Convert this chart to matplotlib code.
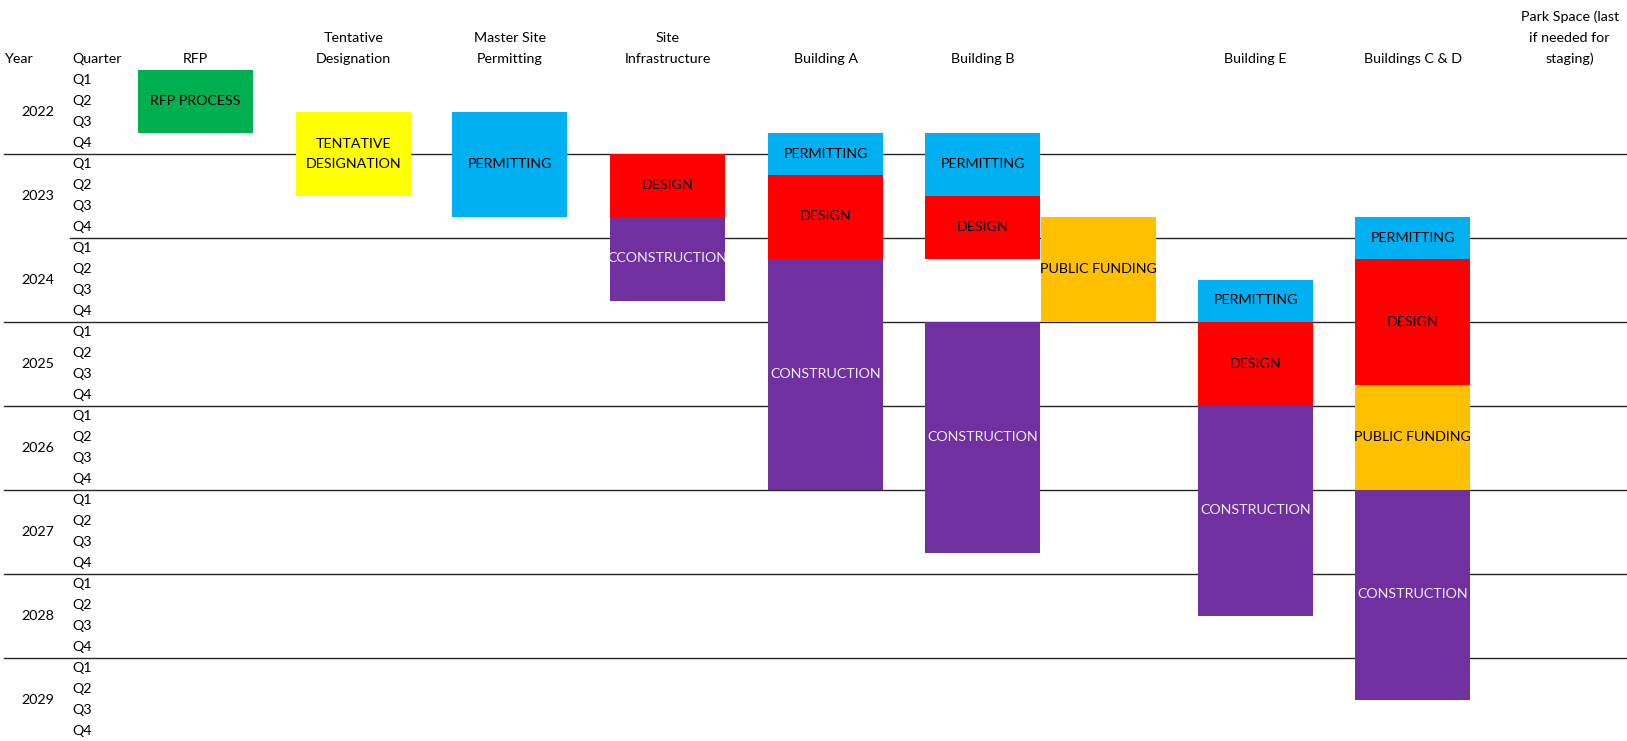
import matplotlib.pyplot as plt
from matplotlib.patches import Rectangle

plt.rcParams['font.family'] = ['Lato', 'DejaVu Sans']

# --- data -------------------------------------------------------------
years = [2022, 2023, 2024, 2025, 2026, 2027, 2028, 2029]
quarters = ['Q1', 'Q2', 'Q3', 'Q4']

column_headers = ['RFP', 'Tentative\nDesignation', 'Master Site\nPermitting',
                  'Site\nInfrastructure', 'Building A', 'Building B', '',
                  'Building E', 'Buildings C & D',
                  'Park Space (last\nif needed for\nstaging)']

# each task: column index, label, start quarter, end quarter (0 = 2022 Q1), phase
task_column = [0, 1, 2, 3, 3, 4, 4, 4, 5, 5, 5, 6, 7, 7, 7, 8, 8, 8, 8]
task_label = ['RFP PROCESS', 'TENTATIVE\nDESIGNATION', 'PERMITTING',
              'DESIGN', 'CCONSTRUCTION',
              'PERMITTING', 'DESIGN', 'CONSTRUCTION',
              'PERMITTING', 'DESIGN', 'CONSTRUCTION',
              'PUBLIC FUNDING',
              'PERMITTING', 'DESIGN', 'CONSTRUCTION',
              'PERMITTING', 'DESIGN', 'PUBLIC FUNDING', 'CONSTRUCTION']
task_start = [0, 2, 2, 4, 7, 3, 5, 9, 3, 6, 12, 7, 10, 12, 16, 7, 9, 15, 20]
task_end = [3, 6, 7, 7, 11, 5, 9, 20, 6, 9, 23, 12, 12, 16, 26, 9, 15, 20, 30]
task_phase = ['rfp', 'tentative', 'permit', 'design', 'construct',
              'permit', 'design', 'construct',
              'permit', 'design', 'construct',
              'funding',
              'permit', 'design', 'construct',
              'permit', 'design', 'funding', 'construct']

# --- styling / layout ---------------------------------------------------
phase_color = {'rfp': '#00B050', 'tentative': '#FFFF00', 'permit': '#00B0F0',
               'design': '#FF0000', 'construct': '#7030A0', 'funding': '#FFC000'}
phase_text = {'construct': '#F0EAF8'}

W, H = 1627, 741
col_left = [138, 296, 452, 610, 768, 925, 1041, 1198, 1355, 1512]
col_width = 115.5
row_h = 21.0          # pixels per quarter
top = 69.5            # pixel y of 2022 Q1 top edge
fs = 10.3

fig = plt.figure(figsize=(W / 100, H / 100), dpi=100)
ax = fig.add_axes([0, 0, 1, 1])
ax.set_xlim(0, W)
ax.set_ylim((H - top) / row_h, -top / row_h)
ax.axis('off')

# header
ax.text(5, -0.5, 'Year', fontsize=fs, ha='left', va='center')
ax.text(72.6, -0.5, 'Quarter', fontsize=fs, ha='left', va='center')
for i, header in enumerate(column_headers):
    lines = header.split('\n')[::-1]
    for k, line in enumerate(lines):
        ax.text(col_left[i] + col_width / 2, -0.5 - k, line, fontsize=fs,
                ha='center', va='center')

# year / quarter labels and separators
for i, year in enumerate(years):
    ax.text(38, 4 * i + 2, str(year), fontsize=fs, ha='center', va='center')
    for j, q in enumerate(quarters):
        ax.text(72.6, 4 * i + j + 0.5, q, fontsize=fs, ha='left', va='center')
    if i > 0:
        x0 = 70 if year == 2024 else 3.7
        ax.plot([x0, W], [4 * i, 4 * i], color='#262626', lw=1.0, zorder=1)

# task boxes
for c, label, s, e, ph in zip(task_column, task_label, task_start, task_end, task_phase):
    ax.add_patch(Rectangle((col_left[c], s), col_width, e - s,
                           facecolor=phase_color[ph], edgecolor='none', zorder=2))
    ax.text(col_left[c] + col_width / 2, (s + e) / 2, label, fontsize=fs,
            ha='center', va='center', color=phase_text.get(ph, 'black'),
            linespacing=1.8, zorder=3)

fig.savefig('out.png', dpi=100)
